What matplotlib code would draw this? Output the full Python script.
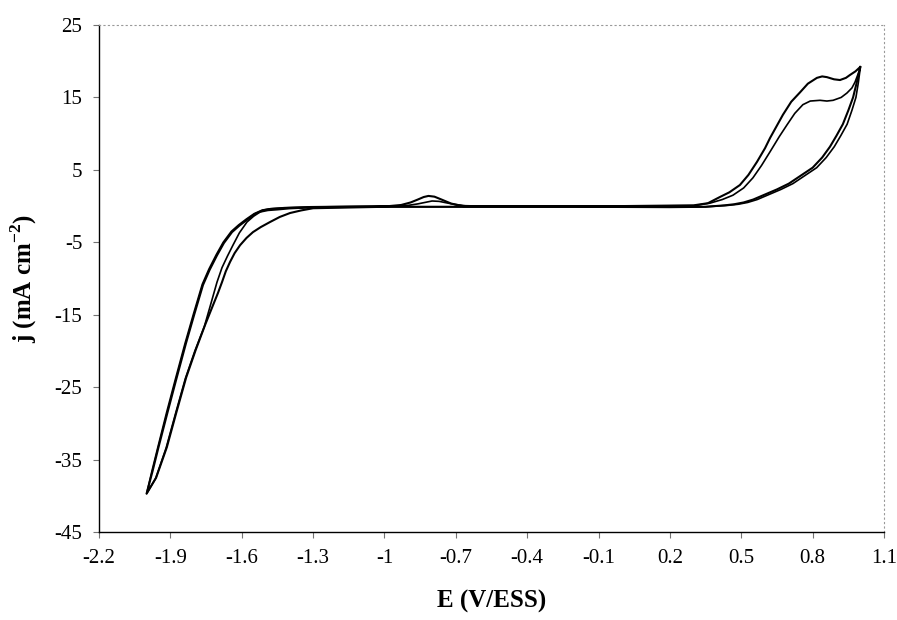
import numpy as np
import matplotlib
matplotlib.use("Agg")
import matplotlib.pyplot as plt

# ---- data (E in V/ESS, j in mA cm-2) ----
# cycle 1 (higher anodic peak), traced from the +1.0 V vertex going negative
E_cycle1 = [1.00, 0.985, 0.97, 0.95, 0.927, 0.90, 0.873, 0.84, 0.80, 0.75, 0.70,
            0.65, 0.60, 0.55, 0.51, 0.47, 0.43, 0.35, 0.20,
            -0.20, -0.60, -1.00, -1.30, -1.35, -1.397, -1.44, -1.481, -1.52,
            -1.553, -1.58, -1.607, -1.63, -1.649, -1.667, -1.683, -1.70, -1.721,
            -1.754, -1.794, -1.834, -1.875, -1.915, -1.96, -2.00,
            -1.975, -1.95, -1.913, -1.876, -1.835, -1.80, -1.763, -1.735, -1.704,
            -1.675, -1.641, -1.61, -1.578, -1.545, -1.511, -1.48, -1.42, -1.31,
            -1.10, -0.98, -0.93, -0.89, -0.86, -0.835, -0.815, -0.79, -0.76,
            -0.72, -0.67, -0.50, 0.00, 0.30, 0.36, 0.41, 0.45, 0.494, 0.53,
            0.566, 0.60, 0.621, 0.675, 0.71, 0.747, 0.78, 0.818, 0.84, 0.86,
            0.89, 0.915, 0.94, 0.957, 0.98, 1.00]
j_cycle1 = [19.2, 17.0, 15.0, 13.2, 11.3, 9.7, 8.2, 6.7, 5.3, 4.2, 3.1,
            2.3, 1.6, 0.9, 0.5, 0.25, 0.1, -0.1, -0.15,
            -0.1, -0.1, -0.1, -0.3, -0.6, -0.96, -1.5, -2.2, -2.9,
            -3.6, -4.4, -5.4, -6.5, -7.7, -9.0, -10.5, -12.0, -13.7,
            -16.4, -19.9, -23.7, -28.5, -33.3, -37.5, -39.7,
            -36.6, -33.3, -28.6, -24.0, -19.0, -15.0, -10.9, -8.8, -6.8,
            -5.1, -3.6, -2.7, -1.9, -1.1, -0.6, -0.4, -0.25, -0.13,
            -0.05, 0.0, 0.15, 0.5, 0.9, 1.25, 1.4, 1.3, 0.9,
            0.35, 0.0, 0.0, 0.0, 0.1, 0.4, 1.25, 1.9, 2.9, 4.3,
            6.1, 8.0, 9.4, 12.6, 14.4, 15.7, 16.9, 17.7, 17.9, 17.8,
            17.5, 17.4, 17.7, 18.1, 18.6, 19.2]

# cycle 2 (lower anodic peak)
E_cycle2 = [1.00, 0.992, 0.982, 0.965, 0.945, 0.918, 0.891, 0.857, 0.817, 0.767, 0.717,
            0.667, 0.617, 0.567, 0.527, 0.487, 0.445, 0.35, 0.20,
            -0.20, -0.60, -1.00, -1.30, -1.40, -1.45, -1.49, -1.523, -1.55,
            -1.578, -1.61, -1.637, -1.66, -1.683, -1.704, -1.73,
            -1.757, -1.797, -1.837, -1.878, -1.918, -1.962, -2.00,
            -1.977, -1.952, -1.916, -1.879, -1.838, -1.803, -1.766, -1.738, -1.707,
            -1.678, -1.644, -1.613, -1.581, -1.548, -1.514, -1.483, -1.42, -1.31,
            -1.10, -0.95, -0.90, -0.86, -0.83, -0.80, -0.77, -0.74, -0.70,
            -0.66, -0.60, 0.00, 0.30, 0.368, 0.42, 0.465, 0.51, 0.549, 0.585,
            0.621, 0.66, 0.692, 0.725, 0.759, 0.79, 0.831, 0.86, 0.886, 0.92,
            0.944, 0.965, 0.978, 1.00]
j_cycle2 = [19.0, 17.0, 15.0, 13.2, 11.3, 9.7, 8.2, 6.7, 5.3, 4.2, 3.1,
            2.3, 1.6, 0.9, 0.5, 0.25, 0.1, -0.1, -0.15,
            -0.1, -0.1, -0.1, -0.2, -0.35, -0.5, -0.6, -0.82, -1.4,
            -2.2, -3.7, -5.4, -6.9, -8.5, -10.5, -13.5,
            -16.6, -20.0, -23.8, -28.6, -33.4, -37.6, -39.7,
            -36.5, -33.2, -28.5, -23.9, -18.9, -14.9, -10.8, -8.7, -6.7,
            -5.0, -3.5, -2.6, -1.8, -1.05, -0.55, -0.38, -0.25, -0.13,
            -0.05, 0.0, 0.1, 0.3, 0.5, 0.7, 0.65, 0.45, 0.2,
            0.05, 0.0, 0.0, 0.05, 0.4, 0.9, 1.5, 2.5, 3.9, 5.6,
            7.5, 9.6, 11.2, 12.8, 14.0, 14.5, 14.6, 14.5, 14.6, 15.0,
            15.6, 16.3, 17.1, 19.0]

x_ticks = [-2.2, -1.9, -1.6, -1.3, -1.0, -0.7, -0.4, -0.1, 0.2, 0.5, 0.8, 1.1]
x_labels = ["-2.2", "-1.9", "-1.6", "-1.3", "-1", "-0.7", "-0.4", "-0.1",
            "0.2", "0.5", "0.8", "1.1"]
y_ticks = [-45, -35, -25, -15, -5, 5, 15, 25]

plt.rcParams["font.family"] = ["Liberation Serif", "DejaVu Serif"]
plt.rcParams["mathtext.fontset"] = "custom"
plt.rcParams["mathtext.rm"] = "Liberation Serif"
plt.rcParams["mathtext.bf"] = "Liberation Serif:bold"
plt.rcParams["axes.unicode_minus"] = False

fig = plt.figure(figsize=(8.97, 6.2), dpi=100)
ax = fig.add_axes([0.1104, 0.1419, 0.8751, 0.8178])

ax.plot(E_cycle1, j_cycle1, color="black", lw=1.5)
ax.plot(E_cycle2, j_cycle2, color="black", lw=1.2)

ax.set_xlim(-2.2, 1.1)
ax.set_ylim(-45, 25)
ax.set_xticks(x_ticks)
ax.set_xticklabels(x_labels)
ax.set_yticks(y_ticks)
ax.tick_params(direction="out", length=4, width=0.8, color="0.45",
               labelsize=15, pad=8)

# frame: solid left/bottom, faint dotted top/right
for side in ["left", "bottom"]:
    ax.spines[side].set_color("black")
    ax.spines[side].set_linewidth(1.0)
for side in ["top", "right"]:
    ax.spines[side].set_color("0.6")
    ax.spines[side].set_linewidth(0.8)
    ax.spines[side].set_linestyle((0, (1, 3)))

ax.set_xlabel("E (V/ESS)", fontsize=18, fontweight="bold", labelpad=16)
ax.set_ylabel(r"j (mA cm$^{\mathbf{-2}}$)", fontsize=18, fontweight="bold",
              labelpad=11)

fig.savefig("out.png", dpi=100)
